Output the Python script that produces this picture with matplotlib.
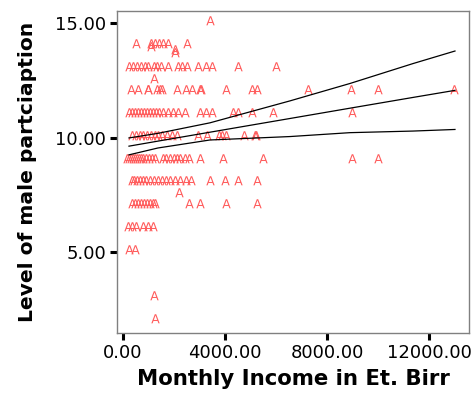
import matplotlib
matplotlib.use("Agg")
import matplotlib.pyplot as plt
from matplotlib.textpath import TextPath
from matplotlib.font_manager import FontProperties
from matplotlib.path import Path

# level of male participation per row and the incomes observed at that level
row_levels = [15, 14, 13.86, 13.75, 13.6, 13, 12.5, 12, 11, 10, 9, 8, 7.5, 7, 6, 5, 3, 2]
row_incomes = [
    [3400],
    [500, 1100, 1250, 1400, 1550, 1750, 2500],
    [1100],
    [2050],
    [2050],
    [250, 400, 550, 700, 850, 1000, 1200, 1350, 1500, 1750, 2150, 2300, 2500,
     2950, 3250, 3500, 4500, 6000],
    [1200],
    [320, 590, 980, 1000, 1330, 1450, 1530, 2120, 2470, 2700, 3020, 3050,
     4040, 5060, 5250, 7240, 8940, 9990, 13000],
    [235, 350, 470, 590, 700, 820, 940, 1060, 1180, 1290, 1410, 1570, 1760,
     1960, 2160, 2430, 3020, 3250, 3490, 4310, 4510, 5060, 5880, 8980],
    [350, 510, 670, 780, 940, 1100, 1250, 1370, 1530, 1720, 1920, 2120, 2940,
     3290, 3760, 3880, 4040, 4740, 5170, 5200],
    [160, 240, 310, 390, 470, 550, 630, 700, 780, 900, 1020, 1140, 1250, 1570,
     1680, 1840, 2000, 2120, 2230, 2430, 2590, 3020, 3920, 5490, 8980, 10000],
    [350, 430, 550, 670, 780, 900, 1060, 1220, 1370, 1530, 1680, 1840, 2040,
     2230, 2470, 2670, 3410, 4000, 4510, 5250],
    [2190],
    [350, 470, 590, 700, 820, 940, 1060, 1180, 1250, 2590, 3020, 4040, 5250],
    [200, 350, 510, 780, 980, 1180],
    [240, 470],
    [1220],
    [1250],
]

# fit line and its confidence band
fit_x = [235, 1370, 3410, 6550, 8900, 11370, 13020]
fit_mid = [9.63, 9.85, 10.24, 10.84, 11.29, 11.76, 12.07]
fit_hi = [9.99, 10.19, 10.65, 11.61, 12.37, 13.24, 13.79]
fit_lo = [9.25, 9.55, 9.90, 10.05, 10.22, 10.29, 10.36]

x_ticks = [0, 4000, 8000, 12000]
y_ticks = [5, 10, 15]

income = [v for row in row_incomes for v in row]
level = [lv for lv, row in zip(row_levels, row_incomes) for _ in row]

# letter "A" marker, sitting a little above its point like the SPSS label marks
tp = TextPath((0, 0), "A", size=1, prop=FontProperties(family="DejaVu Sans"))
ext = tp.get_extents()
verts = tp.vertices.copy()
verts[:, 0] -= (ext.x0 + ext.x1) / 2
verts[:, 1] -= ext.y0 + 0.2 * ext.height
a_marker = Path(verts, tp.codes)

fig = plt.figure(figsize=(4.75, 3.94), dpi=100)
ax = fig.add_axes([117 / 475, 1 - 333 / 394, 352 / 475, 322 / 394])

ax.scatter(income, level, marker=a_marker, s=110, color="#ff5c5c",
           linewidths=0, zorder=2)
for ys in (fit_hi, fit_mid, fit_lo):
    ax.plot(fit_x, ys, color="black", lw=0.9, zorder=3)

ax.set_xlim(-235, 13570)
ax.set_ylim(1.46, 15.54)
ax.set_xticks(x_ticks)
ax.set_xticklabels([f"{v:.2f}" for v in x_ticks])
ax.set_yticks(y_ticks)
ax.set_yticklabels([f"{v:.2f}" for v in y_ticks])

for side in ("top", "right", "left", "bottom"):
    ax.spines[side].set_color("#808080")
    ax.spines[side].set_linewidth(1.0)
ax.tick_params(direction="out", length=5, width=2.2, color="black",
               labelsize=13, pad=3)

ax.set_xlabel("Monthly Income in Et. Birr", fontsize=15.3, fontweight="bold",
              labelpad=5)
ax.set_ylabel("Level of male partciaption", fontsize=14.6, fontweight="bold",
              labelpad=13)

fig.savefig("out.png", dpi=100)
